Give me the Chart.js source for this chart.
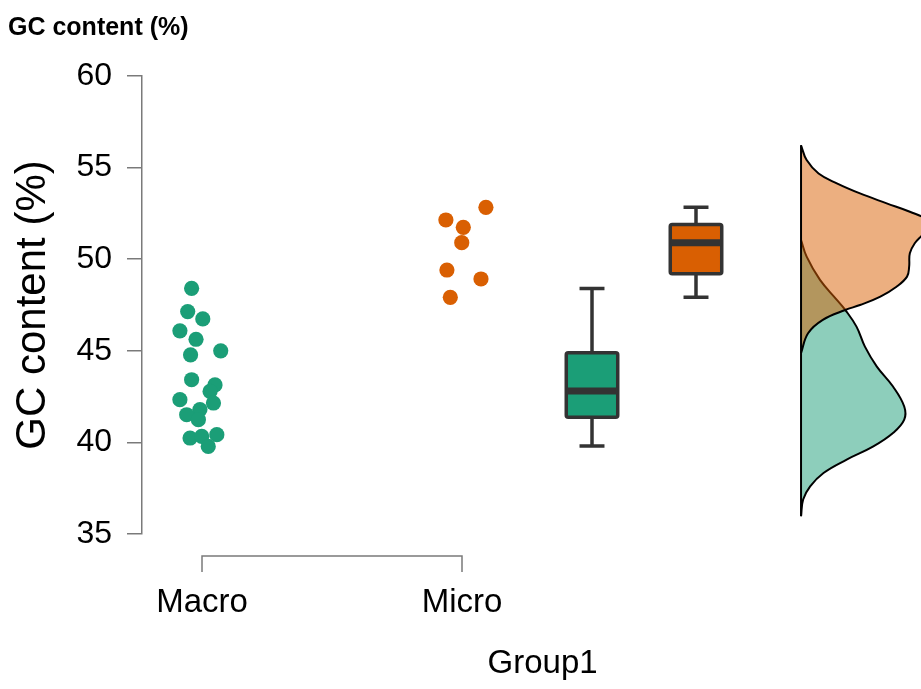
<!DOCTYPE html>
<html>
<head>
<meta charset="utf-8">
<script src="https://cdn.jsdelivr.net/npm/chart.js@4.4.1/dist/chart.umd.min.js"></script>
<style>
  html, body { margin: 0; padding: 0; background: #ffffff; }
  #wrap { width: 921px; height: 689px; }
</style>
</head>
<body>
<div id="wrap"><canvas id="chart" width="921" height="689"></canvas></div>
<script>
// ---- data ----
const groups = ['Macro', 'Micro'];
const yTicks = [35, 40, 45, 50, 55, 60];

// GC content (%) per genome, with the horizontal jitter used for the dot cloud
const macroValues = [48.41, 47.14, 46.74, 46.09, 45.63, 45.00, 44.78, 43.42, 43.14, 42.78,
                     42.33, 42.15, 41.79, 41.51, 41.24, 40.24, 40.33, 40.42, 39.78];
const macroJitter = [0.960, 0.945, 1.003, 0.915, 0.977, 1.072, 0.956, 0.960, 1.050, 1.031,
                     0.915, 1.044, 0.992, 0.941, 0.986, 0.954, 0.999, 1.057, 1.024];
const microValues = [52.83, 52.14, 51.74, 50.90, 49.41, 48.92, 47.92];
const microJitter = [2.092, 1.938, 2.005, 1.999, 1.942, 2.073, 1.955];

// box summaries: min, q1, median, q3, max
const macroBox = [39.80, 41.37, 42.80, 44.90, 48.40];
const microBox = [47.92, 49.20, 50.90, 51.90, 52.83];

// half-violin outlines: GC value and density
const microDensityY = [56.22, 55.41, 54.68, 54.14, 53.59, 53.05, 52.59, 52.10, 51.50, 50.87,
                       50.32, 49.59, 49.05, 48.50, 47.96, 47.50, 47.23, 46.69, 45.96, 44.87];
const microDensity  = [0.000, 0.008, 0.025, 0.051, 0.084, 0.122, 0.155, 0.180, 0.176, 0.162,
                       0.155, 0.154, 0.151, 0.136, 0.113, 0.084, 0.063, 0.031, 0.010, 0.000];
const macroDensityY = [51.05, 50.14, 48.87, 47.78, 47.23, 46.32, 45.23, 44.14, 43.05, 41.96,
                       41.24, 40.51, 39.78, 39.06, 38.33, 37.60, 36.88, 35.97];
const macroDensity  = [0.000, 0.008, 0.027, 0.051, 0.063, 0.079, 0.091, 0.108, 0.131, 0.147,
                       0.147, 0.131, 0.103, 0.065, 0.032, 0.013, 0.003, 0.000];

// ---- layout on the x scale ----
const boxPos = [2.5, 2.9];
const boxHalf = 0.099;
const capHalf = 0.048;
const densityBase = 3.304;
const densityScale = 2.7;

const green = '#1B9E77';
const orange = '#D95F02';
const dark = '#333333';
const axisGray = '#7a7a7a';
const family = '"Liberation Sans", Arial, Helvetica, sans-serif';

const toPoints = (xs, ys) => ys.map((v, i) => ({ x: xs[i], y: v }));
const densityPoints = (ys, ds) => ys.map((v, i) => ({ x: densityBase + ds[i] * densityScale, y: v }));

// boxplots
const boxPlugin = {
  id: 'boxes',
  afterDatasetsDraw(chart) {
    const { ctx, scales: { x, y } } = chart;
    const draw = (stats, pos, fill) => {
      const [mn, q1, med, q3, mx] = stats;
      const cx = x.getPixelForValue(pos);
      const hw = x.getPixelForValue(pos + boxHalf) - cx;
      const cw = x.getPixelForValue(pos + capHalf) - cx;
      const yq1 = y.getPixelForValue(q1), yq3 = y.getPixelForValue(q3);
      const ymed = y.getPixelForValue(med);
      const ymin = y.getPixelForValue(mn), ymax = y.getPixelForValue(mx);
      ctx.save();
      ctx.strokeStyle = dark;
      ctx.lineWidth = 3.5;
      ctx.lineCap = 'butt';
      ctx.beginPath();
      ctx.moveTo(cx, yq3); ctx.lineTo(cx, ymax);
      ctx.moveTo(cx - cw, ymax); ctx.lineTo(cx + cw, ymax);
      ctx.moveTo(cx, yq1); ctx.lineTo(cx, ymin);
      ctx.moveTo(cx - cw, ymin); ctx.lineTo(cx + cw, ymin);
      ctx.stroke();
      ctx.beginPath();
      ctx.roundRect(cx - hw, yq3, hw * 2, yq1 - yq3, 2);
      ctx.fillStyle = fill;
      ctx.fill();
      ctx.lineJoin = 'round';
      ctx.stroke();
      ctx.lineWidth = 7;
      ctx.beginPath();
      ctx.moveTo(cx - hw, ymed); ctx.lineTo(cx + hw, ymed);
      ctx.stroke();
      ctx.restore();
    };
    draw(macroBox, boxPos[0], green);
    draw(microBox, boxPos[1], orange);
  }
};

// bracket-style x axis with group labels and title
const bracketAxis = {
  id: 'bracketAxis',
  afterDraw(chart) {
    const { ctx, chartArea, scales: { x } } = chart;
    const yLine = chartArea.bottom + 22;
    const x0 = x.getPixelForValue(1), x1 = x.getPixelForValue(groups.length);
    ctx.save();
    ctx.strokeStyle = axisGray;
    ctx.lineWidth = 1.5;
    ctx.beginPath();
    ctx.moveTo(x0, yLine + 16); ctx.lineTo(x0, yLine); ctx.lineTo(x1, yLine); ctx.lineTo(x1, yLine + 16);
    ctx.stroke();
    ctx.fillStyle = '#000';
    ctx.textAlign = 'center';
    ctx.textBaseline = 'alphabetic';
    ctx.font = '33px ' + family;
    groups.forEach((g, i) => ctx.fillText(g, x.getPixelForValue(i + 1), yLine + 56));
    ctx.fillText('Group1', x.getPixelForValue(2.31), chartArea.bottom + 139);
    ctx.restore();
  }
};

new Chart(document.getElementById('chart'), {
  type: 'scatter',
  data: {
    datasets: [
      {
        type: 'line',
        data: [{ x: densityBase, y: microDensityY[0] }, { x: densityBase, y: macroDensityY[macroDensityY.length - 1] }],
        borderColor: '#000', borderWidth: 2, pointRadius: 0, fill: false
      },
      {
        type: 'line',
        data: densityPoints(microDensityY, microDensity),
        borderColor: '#000', borderWidth: 2, pointRadius: 0, tension: 0.4,
        backgroundColor: 'rgba(217,95,2,0.5)', fill: 'shape'
      },
      {
        type: 'line',
        data: densityPoints(macroDensityY, macroDensity),
        borderColor: '#000', borderWidth: 2, pointRadius: 0, tension: 0.4,
        backgroundColor: 'rgba(27,158,119,0.5)', fill: 'shape'
      },
      {
        label: groups[0],
        data: toPoints(macroJitter, macroValues),
        backgroundColor: green, borderWidth: 0, pointRadius: 7.6
      },
      {
        label: groups[1],
        data: toPoints(microJitter, microValues),
        backgroundColor: orange, borderWidth: 0, pointRadius: 7.6
      }
    ]
  },
  options: {
    responsive: false,
    animation: false,
    devicePixelRatio: 1,
    layout: { autoPadding: false, padding: { left: 8, right: 0, top: 0, bottom: 155 } },
    plugins: {
      legend: { display: false },
      tooltip: { enabled: false },
      title: {
        display: true,
        text: 'GC content (%)',
        align: 'start',
        color: '#000',
        font: { family: family, size: 25, weight: 'bold' },
        padding: { top: 13, bottom: 33 }
      }
    },
    scales: {
      x: {
        type: 'linear',
        display: false,
        min: 0.7692,
        max: 3.7654
      },
      y: {
        min: 35,
        max: 60,
        afterBuildTicks: s => { s.ticks = yTicks.map(v => ({ value: v })); },
        afterFit: s => { s.width = 134; },
        grid: { drawOnChartArea: false, drawTicks: true, tickLength: 15, color: axisGray, lineWidth: 1.5 },
        border: { display: true, color: axisGray, width: 1.5 },
        ticks: { color: '#000', font: { family: family, size: 32 }, padding: 15 },
        title: {
          display: true,
          text: 'GC content (%)',
          color: '#000',
          font: { family: family, size: 42 },
          padding: { top: 0, bottom: 0 }
        }
      }
    }
  },
  plugins: [boxPlugin, bracketAxis]
});
</script>
</body>
</html>
